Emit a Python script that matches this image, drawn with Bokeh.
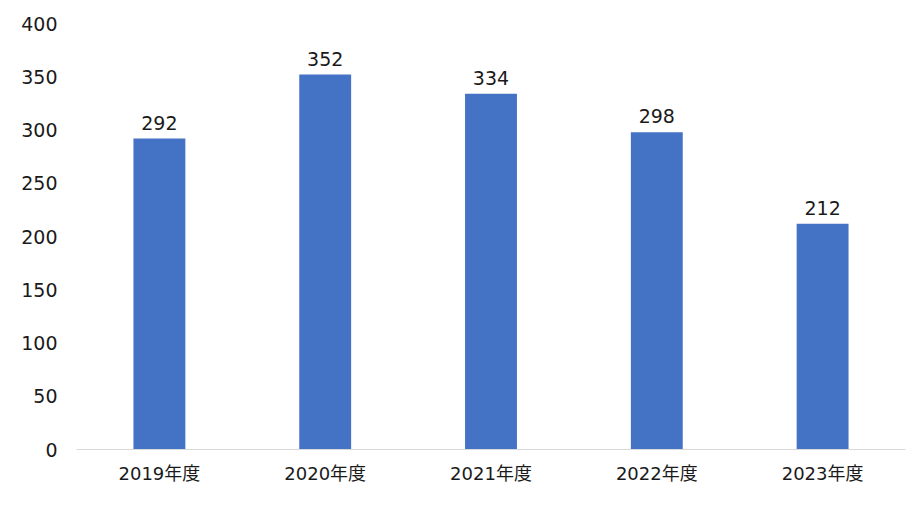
from bokeh.plotting import figure
from bokeh.models import ColumnDataSource, FactorRange, Range1d, FixedTicker, LabelSet
from bokeh.core.properties import value
from bokeh.embed import file_html
from bokeh.resources import INLINE

categories = ["2019年度", "2020年度", "2021年度", "2022年度", "2023年度"]
values = [292, 352, 334, 298, 212]
y_ticks = [0, 50, 100, 150, 200, 250, 300, 350, 400]

FONT = "DejaVu Sans, Noto Sans CJK JP"

src = ColumnDataSource(dict(cat=categories, val=values, lab=[str(v) for v in values]))

p = figure(width=913, height=500, output_backend="svg", toolbar_location=None,
           x_range=FactorRange(*categories, range_padding=0),
           y_range=Range1d(0, 400),
           min_border_left=76, min_border_right=8, min_border_top=23, min_border_bottom=51)
p.outline_line_color = None
p.xgrid.grid_line_color = None
p.ygrid.grid_line_color = None

p.vbar(x="cat", top="val", width=0.313, source=src, color="#4472C4", line_color=None)

labels = LabelSet(x="cat", y="val", text="lab", source=src, text_align="center",
                  text_baseline="bottom", y_offset=9, text_font=value(FONT),
                  text_font_size="19px", text_color="#1a1a1a")
p.add_layout(labels)

p.yaxis.ticker = FixedTicker(ticks=y_ticks)
p.yaxis.axis_line_color = None
p.yaxis.major_tick_line_color = None
p.yaxis.minor_tick_line_color = None
p.yaxis.major_label_standoff = 13
p.yaxis.major_label_text_font = FONT
p.yaxis.major_label_text_font_size = "19px"
p.yaxis.major_label_text_color = "#1a1a1a"

p.xaxis.axis_line_color = "#D9D9D9"
p.xaxis.axis_line_width = 1
p.xaxis.major_tick_line_color = None
p.xaxis.minor_tick_line_color = None
p.xaxis.major_label_standoff = 7
p.xaxis.major_label_text_font = FONT
p.xaxis.major_label_text_font_size = "18px"
p.xaxis.major_label_text_color = "#1a1a1a"

open("out.html", "w").write(file_html(p, INLINE))
